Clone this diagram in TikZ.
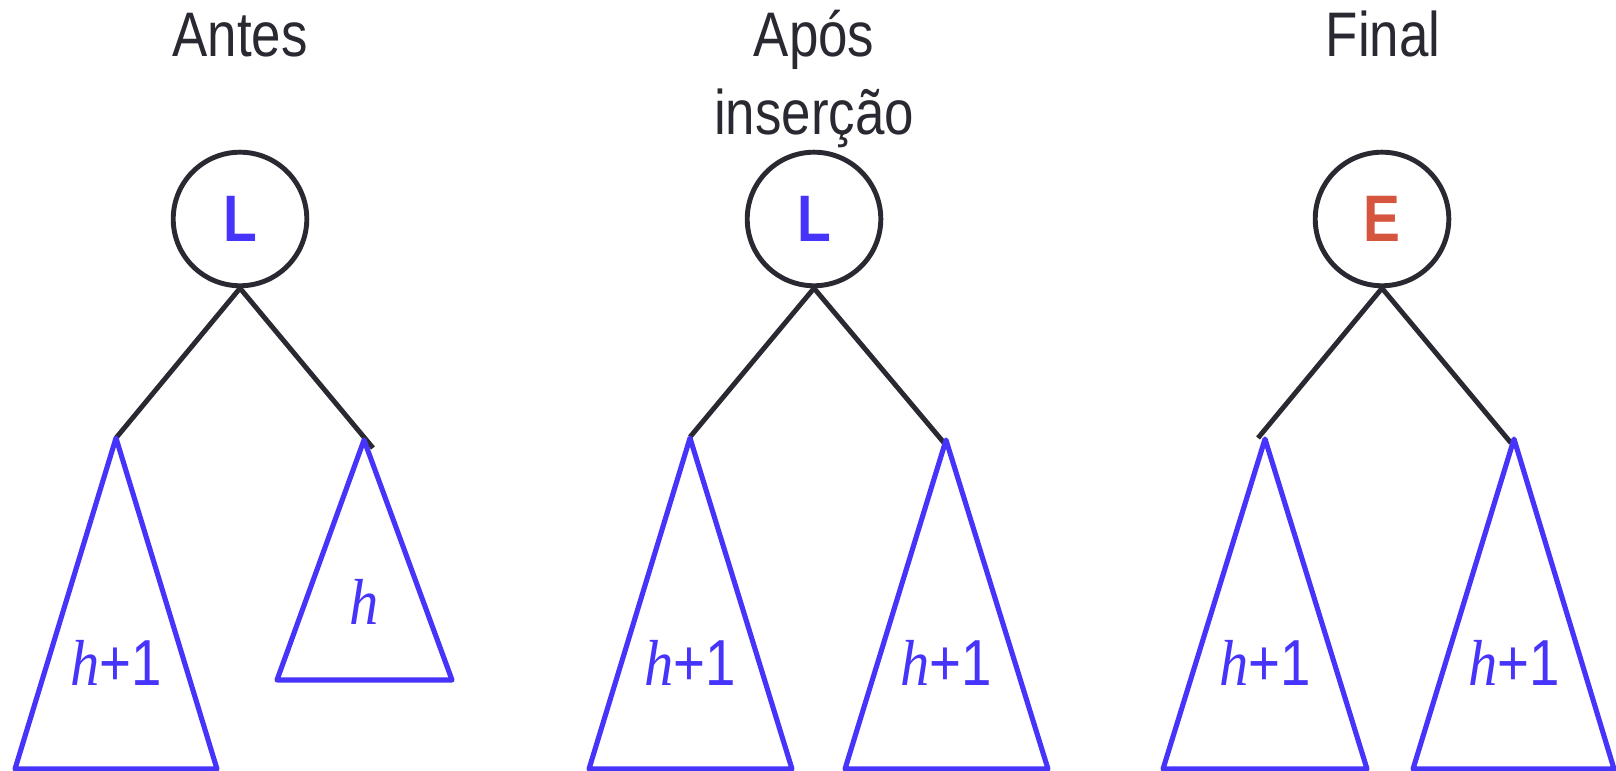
\documentclass[tikz,border=0pt]{standalone}
\usepackage{fontspec}
\setmainfont{Liberation Sans}[FakeStretch=0.84]
\newfontfamily\alturafont{Liberation Serif}[FakeStretch=0.9]

\definecolor{avlblue}{HTML}{4634FA}
\definecolor{avlink}{HTML}{2A2931}
\definecolor{avlred}{HTML}{D6553F}

% altura h em itálico
\newcommand{\hsub}{{\alturafont\itshape h}}

\tikzset{
  raiz/.style={circle, draw=avlink, line width=1.4pt, minimum size=1.335cm,
    inner sep=0pt, font=\fontsize{18.7}{20}\selectfont\bfseries},
  aresta/.style={draw=avlink, line width=1.4pt},
  subarv/.style={draw=avlblue, line width=1.45pt, line join=round},
  titulo/.style={text=avlink, anchor=base, inner sep=0pt,
    font=\fontsize{17.9}{22}\selectfont},
  altura/.style={text=avlblue, anchor=base, inner sep=0pt,
    font=\fontsize{18.5}{20}\selectfont},
}

\begin{document}
\begin{tikzpicture}[x=0.01cm, y=-0.01cm]
\useasboundingbox (0,0) rectangle (1616,771);

% títulos
\node[titulo] (tAntes) at (240,57) {Antes};
\node[titulo] (tApos) at (814,57) {Após};
\node[titulo] (tIns) at (814,135) {inserção};
\node[titulo] (tFinal) at (1383,57) {Final};

% raízes (fator de balanceamento)
\node[raiz, text=avlblue] (rA) at (240,219) {L};
\node[raiz, text=avlblue] (rB) at (814,219) {L};
\node[raiz, text=avlred] (rC) at (1382,219) {E};

% pontas das arestas
\foreach \nome/\x/\y in {eAL/116/438, eAR/373/448, eBL/690/437,
    eBR/945/444, eCL/1258/438, eCR/1511/443} {
    \coordinate (\nome) at (\x,\y);
}

% arestas
\draw[aresta] (rA.south) -- (eAL);
\draw[aresta] (rA.south) -- (eAR);
\draw[aresta] (rB.south) -- (eBL);
\draw[aresta] (rB.south) -- (eBR);
\draw[aresta] (rC.south) -- (eCL);
\draw[aresta] (rC.south) -- (eCR);

% subárvores: topo, base esquerda/direita, altura do rótulo
\foreach \nome/\xt/\yt/\xl/\xr/\yb/\ly/\rot in {
    sAL/116/438/15/217/769/686/{\hsub+1},
    sAR/364/440/277/452/680/625/{\hsub},
    sBL/690/438/589/792/769/686/{\hsub+1},
    sBR/946/440/845/1048/769/686/{\hsub+1},
    sCL/1265/439/1163/1367/769/686/{\hsub+1},
    sCR/1514/439/1413/1614/769/686/{\hsub+1}} {
    \coordinate (\nome) at (\xt,\yt);
    \draw[subarv] (\nome) -- (\xl,\yb) -- (\xr,\yb) -- cycle;
    \node[altura] (l\nome) at (\xt,\ly) {\rot};
}
\end{tikzpicture}
\end{document}
